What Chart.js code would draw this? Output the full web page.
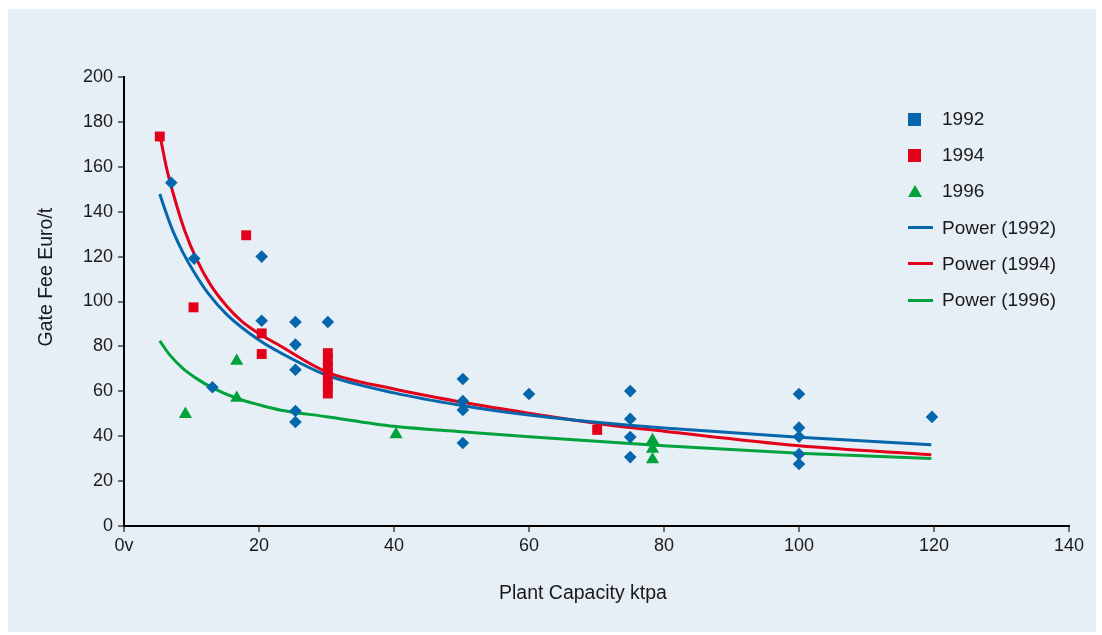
<!DOCTYPE html>
<html>
<head>
<meta charset="utf-8" />
<title>Gate Fee vs Plant Capacity</title>
<script src="https://cdn.jsdelivr.net/npm/chart.js@4.4.1/dist/chart.umd.min.js"></script>
<style>
    body {
        margin: 0;
        background: #ffffff;
        font-family: 'Liberation Sans', Arial, sans-serif;
    }

    .panel {
        position: absolute;
        left: 8px;
        top: 9px;
        width: 1088px;
        height: 623px;
        background: #e7eff6;
    }

    #chart {
        position: absolute;
        left: 0;
        top: 0;
    }

    .legend {
        position: absolute;
        left: 900px;
        top: 92px;
    }

    .legend-row {
        height: 36.2px;
        display: flex;
        align-items: center;
        font-size: 19px;
        color: #1a1a1a;
    }

    .mark {
        width: 34px;
        height: 14px;
        position: relative;
    }

    .mark span {
        position: absolute;
        left: 0;
    }
</style>
</head>
<body>
<div class="panel">
    <canvas id="chart" width="1088" height="623"></canvas>
    <div class="legend" id="legend"></div>
</div>

<script>
    // scatter points (capacity ktpa, gate fee Euro/t)
    const capacity1992 = [7.0, 10.4, 13.1, 20.4, 20.4, 25.4, 25.4, 25.4, 25.4, 25.4, 30.2,
        50.2, 50.2, 50.2, 50.2, 60, 75, 75, 75, 75, 100, 100, 100, 100, 100, 119.7];
    const fee1992 = [152.9, 119.1, 61.8, 120, 91.4, 90.9, 80.8, 69.6, 51.2, 46.3, 90.9,
        65.5, 55.7, 51.7, 37, 58.8, 60.1, 47.7, 39.6, 30.7, 58.8, 43.8, 39.8, 32, 27.6, 48.6];

    const capacity1994 = [5.3, 10.3, 18.1, 20.4, 20.4, 30.2, 30.2, 30.2, 30.2, 30.2, 30.2, 30.2, 70.1];
    const fee1994 = [173.5, 97.4, 129.5, 85.8, 76.6, 59, 62, 65, 68, 71, 74, 77, 42.8];

    const capacity1996 = [9.1, 16.7, 16.7, 40.3, 78.3, 78.3, 78.3];
    const fee1996 = [49.8, 73.5, 57.0, 40.8, 38.2, 34.3, 29.6];

    // power trend lines, read at a few capacities
    const trendCap1992 = [5.3, 6.3, 7.3, 8.7, 10.3, 12.5, 15.2, 20.1, 23.1, 30, 40, 50, 60, 70, 80, 100, 119.6];
    const trendFee1992 = [147.9, 139, 131, 122, 113.5, 103.5, 94.3, 82.6, 77.3, 67.2, 59.3, 53.7, 49.4, 46.2, 43.6, 39.5, 36.2];

    const trendCap1994 = [5.4, 6.3, 7.3, 9, 10.8, 12.8, 15.2, 17.5, 20.1, 23.1, 30, 40, 50, 60, 70, 80, 100, 119.6];
    const trendFee1994 = [173, 159.5, 148, 131.5, 118.5, 107.5, 98, 91, 85.5, 80.3, 68.7, 61, 55.2, 50.2, 45.7, 42.2, 35.7, 31.7];

    const trendCap1996 = [5.3, 6.8, 8.8, 11, 13.2, 16.7, 20.1, 23.1, 30, 40, 50, 60, 70, 80, 100, 119.6];
    const trendFee1996 = [82.5, 76.1, 70.0, 65.2, 61.4, 56.9, 53.9, 51.7, 48.7, 44.4, 42.0, 39.8, 37.7, 35.8, 32.4, 30.1];

    const xTicks = [0, 20, 40, 60, 80, 100, 120, 140];
    const xTickLabels = ['0v', '20', '40', '60', '80', '100', '120', '140'];

    const BLUE = '#0466ab';
    const RED = '#e2001a';
    const GREEN = '#00a23c';
    const FONT = "'Liberation Sans', Arial, sans-serif";

    function pairs(xs, ys) {
        return xs.map((x, i) => ({ x: x, y: ys[i] }));
    }

    const datasets = [
        { label: '1992', data: pairs(capacity1992, fee1992), pointStyle: 'rectRot', pointRadius: 6.3,
          backgroundColor: BLUE, borderColor: BLUE, borderWidth: 0, showLine: false },
        { label: '1994', data: pairs(capacity1994, fee1994), pointStyle: 'rect', pointRadius: 7,
          backgroundColor: RED, borderColor: RED, borderWidth: 0, showLine: false },
        { label: '1996', data: pairs(capacity1996, fee1996), pointStyle: 'triangle', pointRadius: 7.6,
          backgroundColor: GREEN, borderColor: GREEN, borderWidth: 0, showLine: false },
        { label: 'Power (1992)', data: pairs(trendCap1992, trendFee1992), showLine: true, pointRadius: 0,
          borderColor: BLUE, borderWidth: 3, cubicInterpolationMode: 'monotone' },
        { label: 'Power (1994)', data: pairs(trendCap1994, trendFee1994), showLine: true, pointRadius: 0,
          borderColor: RED, borderWidth: 3, cubicInterpolationMode: 'monotone' },
        { label: 'Power (1996)', data: pairs(trendCap1996, trendFee1996), showLine: true, pointRadius: 0,
          borderColor: GREEN, borderWidth: 3, cubicInterpolationMode: 'monotone' }
    ];

    const chart = new Chart(document.getElementById('chart'), {
        type: 'scatter',
        data: { datasets: datasets },
        options: {
            responsive: false,
            animation: false,
            layout: { padding: { top: 68, right: 27, left: 0, bottom: 0 } },
            plugins: {
                legend: { display: false },
                tooltip: { enabled: false }
            },
            scales: {
                x: {
                    type: 'linear',
                    min: 0,
                    max: 140,
                    afterFit: (scale) => { scale.height = 106; },
                    afterBuildTicks: (scale) => { scale.ticks = xTicks.map(v => ({ value: v })); },
                    ticks: {
                        color: '#1a1a1a',
                        font: { family: FONT, size: 18 },
                        padding: 3,
                        maxRotation: 0,
                        callback: (v) => xTickLabels[xTicks.indexOf(v)]
                    },
                    grid: { drawOnChartArea: false, tickLength: 6, color: '#6e6e6e', lineWidth: 2 },
                    border: { color: '#000000', width: 2 },
                    title: {
                        display: true,
                        text: 'Plant Capacity ktpa     ',
                        color: '#1a1a1a',
                        font: { family: FONT, size: 19.5 },
                        padding: { top: 0, bottom: 27 }
                    }
                },
                y: {
                    min: 0,
                    max: 200,
                    afterFit: (scale) => { scale.width = 116; },
                    ticks: {
                        stepSize: 20,
                        color: '#1a1a1a',
                        font: { family: FONT, size: 18 },
                        padding: 5
                    },
                    grid: { drawOnChartArea: false, tickLength: 6, color: '#6e6e6e', lineWidth: 2 },
                    border: { color: '#000000', width: 2 },
                    title: {
                        display: true,
                        text: '         Gate Fee Euro/t',
                        color: '#1a1a1a',
                        font: { family: FONT, size: 19.5 },
                        padding: { top: 27, bottom: 0 }
                    }
                }
            }
        }
    });

    // legend drawn as html rows beside the plot
    const legendMarks = [
        { kind: 'square', color: BLUE },
        { kind: 'square', color: RED },
        { kind: 'triangle', color: GREEN },
        { kind: 'line', color: BLUE },
        { kind: 'line', color: RED },
        { kind: 'line', color: GREEN }
    ];
    const legendEl = document.getElementById('legend');
    datasets.forEach((ds, i) => {
        const m = legendMarks[i];
        const row = document.createElement('div');
        row.className = 'legend-row';
        const mark = document.createElement('div');
        mark.className = 'mark';
        const s = document.createElement('span');
        if (m.kind === 'square') {
            s.style.cssText = `top:0.5px;width:13px;height:13px;background:${m.color}`;
        } else if (m.kind === 'triangle') {
            s.style.cssText = `top:1px;width:0;height:0;border-left:7px solid transparent;border-right:7px solid transparent;border-bottom:12px solid ${m.color}`;
        } else {
            s.style.cssText = `top:5.5px;width:25px;height:3px;background:${m.color}`;
        }
        mark.appendChild(s);
        const txt = document.createElement('span');
        txt.textContent = ds.label;
        row.appendChild(mark);
        row.appendChild(txt);
        legendEl.appendChild(row);
    });
</script>
</body>
</html>
